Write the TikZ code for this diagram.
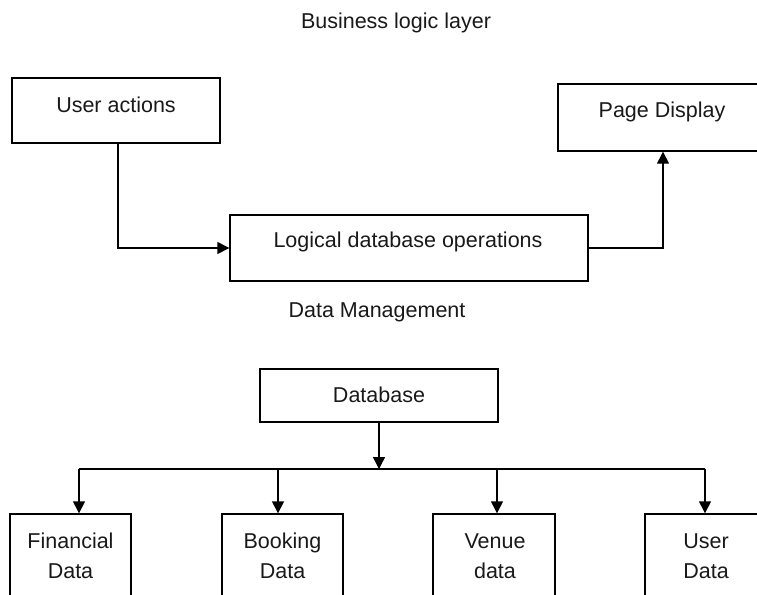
\documentclass[tikz,border=0pt]{standalone}
\usepackage{fontspec}
\setmainfont{Liberation Sans}
\usetikzlibrary{arrows.meta}
\begin{document}
\begin{tikzpicture}[x=1pt,y=-1pt,
  boxnode/.style={draw=black, line width=1.4pt, inner sep=0pt},
  lbl/.style={inner sep=0pt, align=center, text=black!90, font=\fontsize{21.5}{30}\selectfont},
  conn/.style={line width=1.4pt, -{Triangle[length=12pt,width=12pt]}},
  plain/.style={line width=1.4pt}]
\clip (0,0) rectangle (757,594);
% boxes
\node[boxnode, minimum width=208pt, minimum height=65pt] (ua) at (116,110.5) {};
\node[boxnode, minimum width=210pt, minimum height=67pt] (pd) at (663,117.5) {};
\node[boxnode, minimum width=358pt, minimum height=66pt] (lo) at (409,248) {};
\node[boxnode, minimum width=238pt, minimum height=53pt] (db) at (379,395.5) {};
\node[boxnode, minimum width=121pt, minimum height=100pt] (fd) at (70.5,564) {};
\node[boxnode, minimum width=121pt, minimum height=100pt] (bd) at (282.5,564) {};
\node[boxnode, minimum width=122pt, minimum height=100pt] (vd) at (494,564) {};
\node[boxnode, minimum width=121pt, minimum height=100pt] (ud) at (705.5,564) {};
% texts
\node[lbl] (t0) at (396,23) {Business logic layer};
\node[lbl] (t1) at (116,104.5) {User actions};
\node[lbl] (t2) at (662,111.5) {Page Display};
\node[lbl] (t3) at (408,241.5) {Logical database operations};
\node[lbl] (t4) at (377,312.5) {Data Management};
\node[lbl] (t5) at (379,395) {Database};
\node[lbl] (t6) at (70.5,556) {Financial\\Data};
\node[lbl] (t7) at (282.5,556) {Booking\\Data};
\node[lbl] (t8) at (495,556) {Venue\\data};
\node[lbl] (t9) at (706,556) {User\\Data};
% connectors
\coordinate (ub) at (118,143);
\draw[conn] (ub) |- (lo.west);
\draw[conn] (lo.east) -| (pd.south);
\coordinate (bus) at (379,469);
\coordinate (b1) at (79,469);
\coordinate (b2) at (278,469);
\coordinate (b3) at (497,469);
\coordinate (b4) at (705,469);
\draw[conn] (db.south) -- (bus);
\draw[plain] (b1) -- (b4);
\draw[conn] (b1) -- (b1 |- fd.north);
\draw[conn] (b2) -- (b2 |- bd.north);
\draw[conn] (b3) -- (b3 |- vd.north);
\draw[conn] (b4) -- (b4 |- ud.north);
\end{tikzpicture}
\end{document}
